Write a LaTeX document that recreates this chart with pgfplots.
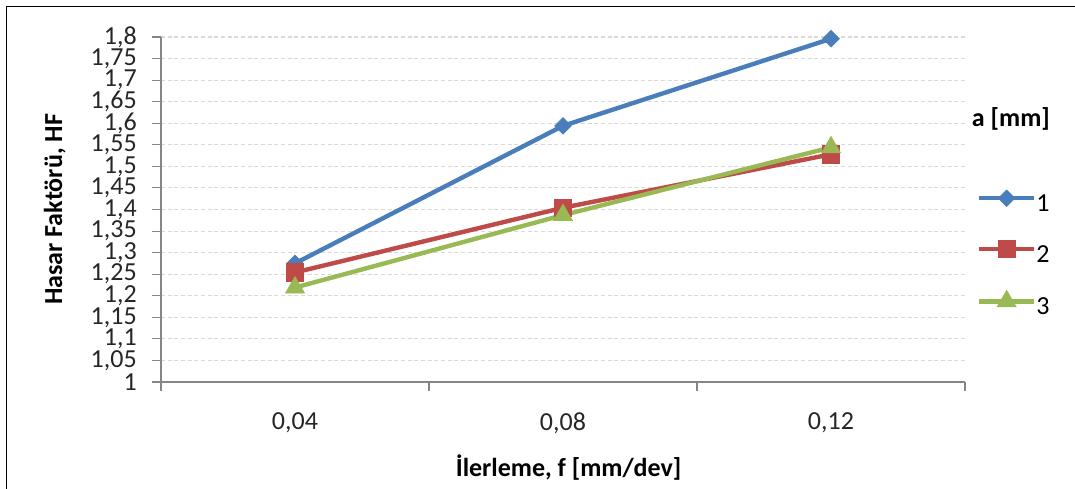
\documentclass[border=0pt]{standalone}
\usepackage{fontspec}
\setmainfont{Carlito}
\usepackage{pgfplots}
\pgfplotsset{compat=1.18}

\definecolor{serA}{HTML}{4A7EBB}
\definecolor{serB}{HTML}{BE4B48}
\definecolor{serC}{HTML}{98B954}
\definecolor{axgray}{HTML}{868686}
\definecolor{gridgray}{HTML}{D9D9D9}

% Hasar faktoru (HF) for each depth of cut a [mm], at feeds 0,04 / 0,08 / 0,12
\pgfplotstableread{
x  a1     a2     a3
1  1.275  1.254  1.219
2  1.594  1.404  1.387
3  1.796  1.528  1.544
}\hfdata

\begin{document}
\begin{tikzpicture}
\path[use as bounding box] (0,0) rectangle (806.25pt,366.75pt);
% outer chart frame
\draw[line width=1.3pt] (4.875pt,-2pt) -- (4.875pt,361.875pt) -- (810pt,361.875pt);
\begin{axis}[
  at={(120.75pt,80.25pt)}, anchor=south west,
  width=603pt, height=258.75pt, scale only axis,
  xmin=0.5, xmax=3.5, ymin=1, ymax=1.8,
  axis lines=left,
  axis line style={-, draw=axgray, line width=0.8pt},
  tick align=outside,
  major tick length=6.5pt,
  tick style={draw=axgray, line width=0.8pt},
  xtick={0.5,1.5,2.5,3.5}, xticklabels={},
  extra x ticks={1,2,3},
  extra x tick labels={{0,04},{0,08},{0,12}},
  extra x tick style={major tick length=0pt},
  ytick={1,1.05,1.1,1.15,1.2,1.25,1.3,1.35,1.4,1.45,1.5,1.55,1.6,1.65,1.7,1.75,1.8},
  y tick label style={/pgf/number format/fixed, /pgf/number format/precision=2,
    /pgf/number format/use comma, /pgf/number format/assume math mode=true,
    xshift=-11.5pt, inner sep=0pt},
  ticklabel style={font=\fontsize{19.5}{20}\selectfont, text=black!85},
  x tick label style={yshift=-19.5pt},
  ymajorgrids,
  major grid style={draw=gridgray, line width=0.8pt, dash pattern=on 3pt off 2pt},
  every axis y label/.style={at={(axis description cs:-0.132,0.5)}, rotate=90, anchor=center,
    font=\fontsize{19.5}{20}\selectfont\bfseries},
  every axis x label/.style={at={(axis description cs:0.507,-0.248)}, anchor=center,
    font=\fontsize{19.5}{20}\selectfont\bfseries},
  ylabel={Hasar Faktörü, HF},
  xlabel={İlerleme, f [mm/dev]},
  legend style={draw=none, fill=none, at={(axis description cs:1.0146,0.5574)}, anchor=north west,
    inner sep=0pt, row sep=17.25pt,
    nodes={inner sep=0pt, text height=14pt, text depth=4pt, font=\fontsize{19.5}{20}\selectfont},
    /tikz/every even column/.style={column sep=4pt}},
  legend cell align=left,
  legend image code/.code={\draw[mark repeat=2,mark phase=2,#1] plot coordinates {(0pt,5pt) (20.6pt,5pt) (41.25pt,5pt)};},
  clip=false,
]
\addplot[serA, line width=3.3pt, mark=square*, mark size=4.4pt, mark options={solid, rotate=45, line width=0.5pt}] table[x=x, y=a1] {\hfdata};
\addlegendentry{1}
\addplot[serB, line width=3.3pt, mark=square*, mark size=6.6pt, mark options={solid, line width=0.5pt}] table[x=x, y=a2] {\hfdata};
\addlegendentry{2}
\addplot[serC, line width=3.3pt, mark=triangle*, mark size=8.2pt, mark options={solid, line width=0.5pt}] table[x=x, y=a3] {\hfdata};
\addlegendentry{3}
\node[anchor=west, inner sep=0pt, font=\fontsize{19.5}{20}\selectfont\bfseries] at (axis description cs:1.0083,0.7623) {a [mm]};
\end{axis}
\end{tikzpicture}
\end{document}
